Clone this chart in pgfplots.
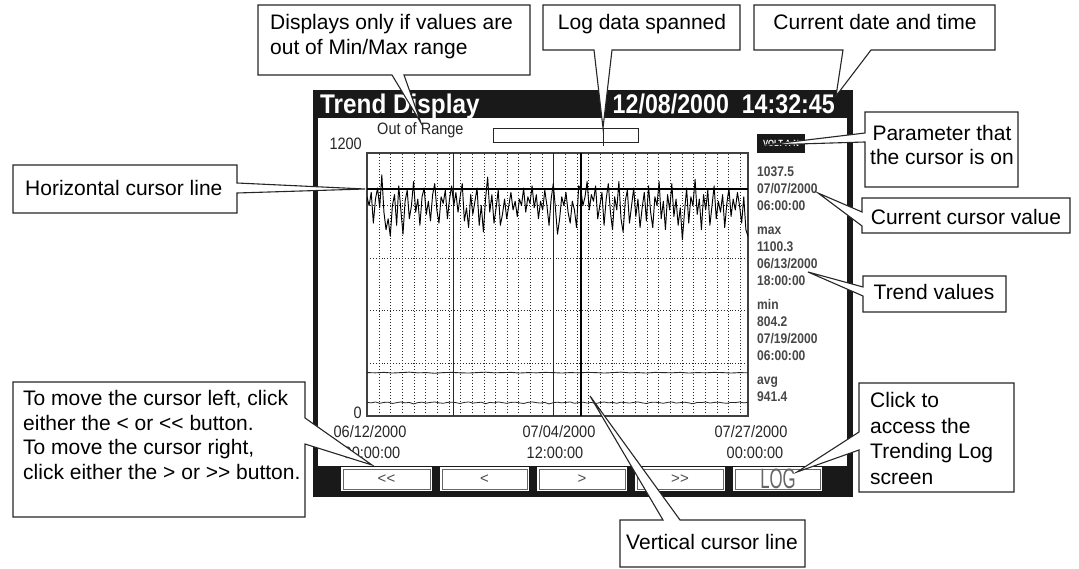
\documentclass[border=0pt]{standalone}
\usepackage{fontspec}
\setmainfont{Liberation Sans}
\newfontfamily\lcd[FakeStretch=0.88]{Liberation Sans}
\newfontfamily\ttl[FakeStretch=0.9]{Liberation Sans}
\newfontfamily\dte[FakeStretch=0.86]{Liberation Sans}
\newfontfamily\pix[FakeStretch=0.86]{Liberation Sans}
\newfontfamily\logf[FakeStretch=0.6]{Liberation Sans}
\usepackage{pgfplots}
\pgfplotsset{compat=1.18}
\newcommand\fs[1]{\fontsize{#1}{#1}\selectfont}

\tikzset{
  callout/.style={draw=black!85, line width=1.1pt, fill=white, line join=miter},
  ct/.style={anchor=base west, inner sep=0pt, font=\fs{21}},
  ctc/.style={anchor=base, inner sep=0pt, font=\fs{21}},
  lcdt/.style={inner sep=0pt, font=\lcd\fs{16.5}, text=black!85},
  pixt/.style={anchor=base west, inner sep=0pt, font=\pix\bfseries\fs{14}, text=black!72},
}

\begin{document}
\begin{tikzpicture}[x=1pt,y=1pt]
\useasboundingbox (0,0) rectangle (1079,568);

% ---- the screen (pixel coordinates, y downwards)
\begin{scope}[shift={(0,568)},yscale=-1]
\fill[black!90] (313,90) rectangle (853,497);
\fill[white] (318,118) rectangle (847,466);
\foreach \a/\b in {341/432,440/529,537/627,635/725,733/822}{
  \fill[white] (\a,467) rectangle (\b,491);
  \draw[black!60,line width=0.8pt] (\a+2,469) rectangle (\b-2,489);
}
\node[font=\fs{15},text=black!70] at (386.5,479) {<\kern0pt<};
\node[font=\fs{15},text=black!70] at (484.5,479) {<};
\node[font=\fs{15},text=black!70] at (582,479) {>};
\node[font=\fs{15},text=black!70] at (680,479) {>\kern0pt>};
\node[anchor=base,inner sep=0,font=\logf\fs{28},text=black!60] at (778,488) {LOG};

\node[anchor=base west,inner sep=0,text=white,font=\ttl\bfseries\fs{27}] at (320,114) {Trend Display};
\node[anchor=base east,inner sep=0,text=white,font=\dte\bfseries\fs{27}] at (835,114) {12/08/2000\ \ 14:32:45};

\node[lcdt,anchor=base west] at (377,135) {Out of Range};
\draw[black!85,line width=0.9pt] (493,128) rectangle (638,142);
\draw[black!85,line width=0.9pt] (603,128) -- (603,146);

\node[lcdt,anchor=base east] at (362,150) {1200};
\node[lcdt,anchor=base east] at (362,419) {0};
\node[lcdt,anchor=base] at (370,438) {06/12/2000};
\node[lcdt,anchor=base] at (372,458) {00:00:00};
\node[lcdt,anchor=base] at (559,438) {07/04/2000};
\node[lcdt,anchor=base] at (555,458) {12:00:00};
\node[lcdt,anchor=base] at (751,438) {07/27/2000};
\node[lcdt,anchor=base] at (755,458) {00:00:00};

\fill[black!90] (757,134) rectangle (805,153);
\node[text=white,inner sep=0,font=\pix\bfseries\fs{9}] at (781,143.5) {VOLT A-N};
\node[pixt] at (757,177) {1037.5};
\node[pixt] at (757,194) {07/07/2000};
\node[pixt] at (757,211) {06:00:00};
\node[pixt] at (757,235) {max};
\node[pixt] at (757,252) {1100.3};
\node[pixt] at (757,269) {06/13/2000};
\node[pixt] at (757,286) {18:00:00};
\node[pixt] at (757,310) {min};
\node[pixt] at (757,327) {804.2};
\node[pixt] at (757,344) {07/19/2000};
\node[pixt] at (757,361) {06:00:00};
\node[pixt] at (757,385) {avg};
\node[pixt] at (757,402) {941.4};
\end{scope}

% ---- the trend chart
\begin{axis}[
  at={(367pt,152pt)}, anchor=south west, scale only axis,
  width=381pt, height=263pt,
  xmin=0, xmax=45, ymin=0, ymax=1200,
  xtick={1.417,2.793,...,44.2}, ytick={240,480,720,960},
  xticklabels={}, yticklabels={},
  major tick length=0pt,
  grid=major,
  major grid style={black!85, line width=0.7pt, dash pattern=on 0.9pt off 2pt},
  axis line style={black!75, line width=1.3pt},
]
\addplot[black!85, line width=0.9pt] coordinates {(10.17,0) (10.17,1200)};
\addplot[black!85, line width=0.9pt] coordinates {(22,0) (22,1200)};
% lower parameters
\addplot[black!85, line width=0.9pt] coordinates {
(0,198)(1,197)(2,199)(3,196)(4,198)(5,200)(6,197)(7,198)(8,195)(9,198)(10,199)(11,197)
(12,196)(13,198)(14,200)(15,197)(16,198)(17,199)(18,196)(19,198)(20,197)(21,199)(22,198)
(23,196)(24,198)(25,197)(26,199)(27,198)(28,196)(29,198)(30,200)(31,197)(32,198)(33,196)
(34,199)(35,198)(36,197)(37,199)(38,196)(39,198)(40,197)(41,199)(42,198)(43,196)(44,198)(45,197)};
\addplot[black!85, line width=0.8pt] coordinates {
(0,62)(0.5,60)(1,64)(1.5,58)(2,62)(2.5,63)(3,57)(3.5,61)(4,64)(4.5,60)(5,62)(5.5,55)
(6,61)(6.5,63)(7,59)(7.5,62)(8,64)(8.5,60)(9,58)(9.5,62)(10,63)(10.5,61)(11,57)(11.5,62)
(12,64)(12.5,59)(13,61)(13.5,63)(14,56)(14.5,62)(15,60)(15.5,64)(16,61)(16.5,58)(17,62)
(17.5,63)(18,60)(18.5,57)(19,62)(19.5,64)(20,61)(20.5,59)(21,62)(21.5,55)(22,61)(22.5,63)
(23,60)(23.5,62)(24,64)(24.5,58)(25,61)(25.5,63)(26,59)(26.5,62)(27,57)(27.5,61)(28,64)
(28.5,60)(29,62)(29.5,58)(30,63)(30.5,61)(31,59)(31.5,62)(32,64)(32.5,60)(33,57)(33.5,62)
(34,63)(34.5,61)(35,58)(35.5,62)(36,64)(36.5,59)(37,61)(37.5,63)(38,60)(38.5,56)(39,62)
(39.5,61)(40,64)(40.5,59)(41,62)(41.5,63)(42,60)(42.5,58)(43,62)(43.5,61)(44,64)(44.5,60)(45,62)};
% trended parameter, 6-hourly
\addplot[black, line width=0.95pt, line join=round] coordinates {
(0,1000)(0.25,960)(0.5,1020)(0.75,880)
(1,990)(1.25,1040)(1.5,950)(1.75,1100.3)
(2,930)(2.25,850)(2.5,900)(2.75,820)
(3,960)(3.25,1010)(3.5,870)(3.75,1050)
(4,940)(4.25,830)(4.5,980)(4.75,1030)
(5,900)(5.25,960)(5.5,1070)(5.75,930)
(6,990)(6.25,870)(6.5,1000)(6.75,1040)
(7,920)(7.25,980)(7.5,890)(7.75,1010)
(8,1060)(8.25,940)(8.5,880)(8.75,1000)
(9,970)(9.25,1030)(9.5,900)(9.75,990)
(10,1050)(10.25,960)(10.5,1020)(10.75,930)
(11,1000)(11.25,1060)(11.5,890)(11.75,950)
(12,860)(12.25,1010)(12.5,920)(12.75,980)
(13,1040)(13.25,870)(13.5,960)(13.75,840)
(14,990)(14.25,1090)(14.5,930)(14.75,1010)
(15,880)(15.25,950)(15.5,1030)(15.75,870)
(16,920)(16.25,990)(16.5,900)(16.75,960)
(17,1020)(17.25,940)(17.5,980)(17.75,910)
(18,990)(18.25,960)(18.5,1040)(18.75,930)
(19,1000)(19.25,970)(19.5,1050)(19.75,950)
(20,1010)(20.25,900)(20.5,980)(20.75,940)
(21,1030)(21.25,960)(21.5,870)(21.75,990)
(22,1060)(22.25,950)(22.5,830)(22.75,900)
(23,1000)(23.25,960)(23.5,1020)(23.75,930)
(24,880)(24.25,980)(24.5,940)(24.75,860)
(25,1050)(25.25,1037.5)(25.5,960)(25.75,1000)
(26,1070)(26.25,940)(26.5,1010)(26.75,980)
(27,1050)(27.25,900)(27.5,960)(27.75,1020)
(28,870)(28.25,990)(28.5,1060)(28.75,930)
(29,850)(29.25,1000)(29.5,940)(29.75,1070)
(30,900)(30.25,840)(30.5,980)(30.75,1030)
(31,880)(31.25,960)(31.5,1040)(31.75,910)
(32,990)(32.25,860)(32.5,950)(32.75,1020)
(33,890)(33.25,1050)(33.5,930)(33.75,860)
(34,1000)(34.25,960)(34.5,1070)(34.75,900)
(35,980)(35.25,850)(35.5,1010)(35.75,940)
(36,1060)(36.25,910)(36.5,990)(36.75,870)
(37,950)(37.25,804.2)(37.5,930)(37.75,1040)
(38,880)(38.25,1000)(38.5,960)(38.75,1080)
(39,920)(39.25,990)(39.5,850)(39.75,1010)
(40,940)(40.25,1030)(40.5,870)(40.75,960)
(41,1050)(41.25,900)(41.5,980)(41.75,930)
(42,1010)(42.25,860)(42.5,970)(42.75,1040)
(43,910)(43.25,990)(43.5,940)(43.75,1020)
(44,960)(44.25,880)(44.5,1000)(44.75,850)
(45,820)};
% cursors
\addplot[black, line width=2.2pt] coordinates {(0,1037.5) (45,1037.5)};
\addplot[black, line width=2.4pt] coordinates {(25.25,0) (25.25,1200)};
\end{axis}

% ---- callouts
\begin{scope}[shift={(0,568)},yscale=-1]
\draw[callout] (258,5) -- (530,5) -- (530,75) -- (404,75) -- (421,123) -- (392,75) -- (258,75) -- cycle;
\node[ct] at (270,29.5) {Displays only if values are};
\node[ct] at (270,54.5) {out of Min/Max range};

\draw[callout] (543,5) -- (740,5) -- (740,50) -- (612,50) -- (603,128) -- (594,50) -- (543,50) -- cycle;
\node[ctc] at (642,29.5) {Log data spanned};

\draw[callout] (754,5) -- (995,5) -- (995,50) -- (871,50) -- (836,96) -- (843,50) -- (754,50) -- cycle;
\node[ctc] at (875,29.5) {Current date and time};

\draw[callout] (13,165) -- (237,165) -- (237,183) -- (365,189) -- (237,193) -- (237,213) -- (13,213) -- cycle;
\node[ct] at (25,195.5) {Horizontal cursor line};

\draw[callout] (13,382) -- (305,382) -- (305,418) -- (372,465) -- (305,444) -- (305,517) -- (13,517) -- cycle;
\node[ct] at (23,405.5) {To move the cursor left, click};
\node[ct] at (23,430) {either the < or <\kern0pt< button.};
\node[ct] at (23,454.5) {To move the cursor right,};
\node[ct] at (23,479) {click either the > or >\kern0pt> button.};

\draw[callout] (865,112) -- (1018,112) -- (1018,187) -- (865,187) -- (865,142) -- (765,145) -- (865,133) -- cycle;
\node[ctc] at (942,140.5) {Parameter that};
\node[ctc] at (942,164.5) {the cursor is on};

\draw[callout] (862,198) -- (1070,198) -- (1070,233) -- (862,233) -- (862,226) -- (818,193) -- (862,212) -- cycle;
\node[ctc] at (966,224.5) {Current cursor value};

\draw[callout] (863,276) -- (1006,276) -- (1006,312) -- (863,312) -- (863,296) -- (808,272) -- (863,287) -- cycle;
\node[ctc] at (934,299.5) {Trend values};

\draw[callout] (859,383) -- (1014,383) -- (1014,492) -- (859,492) -- (859,450) -- (797,472) -- (859,432) -- cycle;
\node[ct] at (870,407.5) {Click to};
\node[ct] at (870,433) {access the};
\node[ct] at (870,458.5) {Trending Log};
\node[ct] at (870,484) {screen};

\draw[callout] (620,520) -- (663,520) -- (590,396) -- (680,520) -- (805,520) -- (805,567) -- (620,567) -- cycle;
\node[ctc] at (712,549.5) {Vertical cursor line};
\end{scope}
\end{tikzpicture}
\end{document}
